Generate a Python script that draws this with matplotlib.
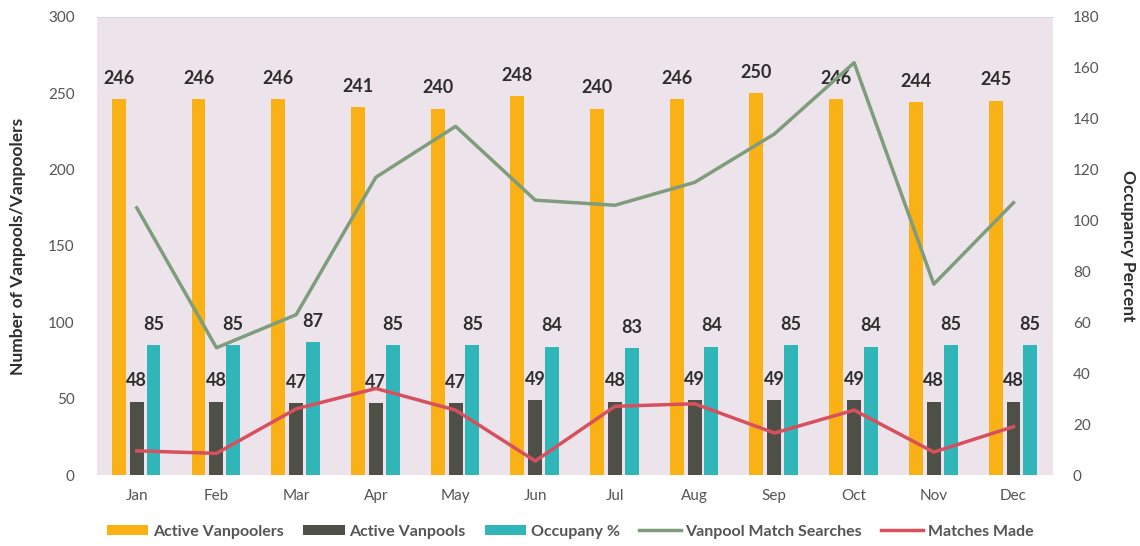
import matplotlib.pyplot as plt
import numpy as np

months = ['Jan', 'Feb', 'Mar', 'Apr', 'May', 'Jun', 'Jul', 'Aug', 'Sep', 'Oct', 'Nov', 'Dec']
vanpoolers = [246, 246, 246, 241, 240, 248, 240, 246, 250, 246, 244, 245]
vanpools = [48, 48, 47, 47, 47, 49, 48, 49, 49, 49, 48, 48]
occupancy = [85, 85, 87, 85, 85, 84, 83, 84, 85, 84, 85, 85]
searches = [105, 50, 63, 117, 137, 108, 106, 115, 134, 162, 75, 107]
matches = [9.5, 8.5, 26, 34, 25.5, 5.5, 27, 28, 16.5, 25.5, 9, 19]

c_orange = '#f9b115'
c_gray = '#4e5048'
c_teal = '#30b5b8'
c_green = '#7f9c7c'
c_red = '#d8505d'
txt = '#2e2e2e'
tick_c = '#555555'

plt.rcParams['font.family'] = ['Lato', 'DejaVu Sans']

fig = plt.figure(figsize=(11.4, 5.46), dpi=100)
ax = fig.add_axes([0.085, 0.130, 0.839, 0.839])
ax.set_facecolor('#ede4eb')
ax2 = ax.twinx()

x = np.arange(len(months))
w = 0.175
b1 = ax.bar(x - 0.225, vanpoolers, w, color=c_orange, label='Active Vanpoolers')
b2 = ax.bar(x, vanpools, w, color=c_gray, label='Active Vanpools')
b3 = ax.bar(x + 0.21, occupancy, w, color=c_teal, label='Occupany %')

for bars in (b1, b2, b3):
    ax.bar_label(bars, padding=9, fontsize=13, fontweight='bold', color=txt)

l1, = ax2.plot(x, searches, color=c_green, lw=2.5, label='Vanpool Match Searches')
l2, = ax2.plot(x, matches, color=c_red, lw=2.5, label='Matches Made')

ax.set_xlim(-0.5, 11.5)
ax.set_ylim(0, 300)
ax.set_yticks(range(0, 301, 50))
ax2.set_ylim(0, 180)
ax2.set_yticks(range(0, 181, 20))
ax.set_xticks(x)
ax.set_xticklabels(months)

for a in (ax, ax2):
    for s in a.spines.values():
        s.set_visible(False)
    a.tick_params(length=0, labelsize=11, colors=tick_c)
ax.spines['top'].set_visible(True)
ax.spines['top'].set_color('#d8d8d8')
ax.tick_params(axis='x', pad=10)
ax.tick_params(axis='y', pad=16)
ax2.tick_params(axis='y', pad=14)

ax.set_ylabel('Number of Vanpools/Vanpoolers', fontsize=12.5, fontweight='bold', color=txt, labelpad=16)
ax2.set_ylabel('Occupancy Percent', fontsize=12.5, fontweight='bold', color=txt, rotation=270, labelpad=26)

handles = [b1, b2, b3, l1, l2]
fig.legend(handles, [h.get_label() for h in handles], loc='center', bbox_to_anchor=(0.5, 0.026),
           ncol=5, frameon=False, prop={'weight': 'bold', 'size': 11.5},
           handlelength=2.6, handleheight=0.6, columnspacing=1.2, handletextpad=0.3,
           labelcolor=tick_c)

fig.savefig('out.png', dpi=100, facecolor='white')
